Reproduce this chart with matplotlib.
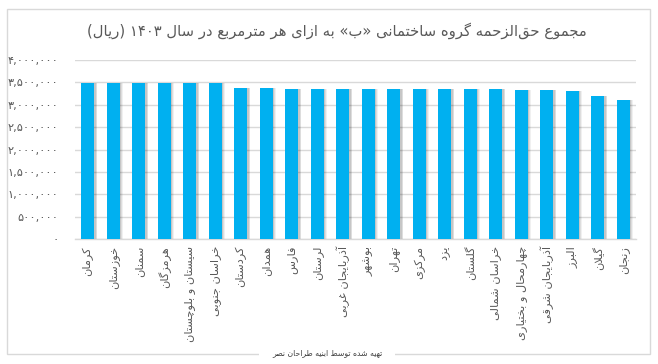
import matplotlib
matplotlib.use("Agg")
import matplotlib.pyplot as plt
from matplotlib.ticker import FuncFormatter, MultipleLocator
from matplotlib.patches import Rectangle
import numpy as np

# ---------------- data ----------------
title = "مجموع حق\u200cالزحمه گروه ساختمانی «ب» به ازای هر مترمربع در سال ۱۴۰۳ (ریال)"
footer = "تهیه شده توسط ابنیه طراحان نصر"
provinces = ["کرمان", "خوزستان", "سمنان", "هرمزگان", "سیستان و بلوچستان", "خراسان جنوبی",
             "کردستان", "همدان", "فارس", "لرستان", "آذربایجان غربی", "بوشهر", "تهران",
             "مرکزی", "یزد", "گلستان", "خراسان شمالی", "چهارمحال و بختیاری",
             "آذربایجان شرقی", "البرز", "گیلان", "زنجان"]
values = [3490000, 3490000, 3490000, 3490000, 3490000, 3490000,
          3385000, 3385000, 3355000, 3355000, 3355000, 3355000, 3355000,
          3355000, 3355000, 3355000, 3355000, 3330000,
          3330000, 3310000, 3200000, 3110000]
y_max = 4000000
y_step = 500000

# ---------------- simple Arabic/Persian shaping ----------------
FORMS = {
    '\u0622': ('\uFE81', '\uFE82'),
    '\u0623': ('\uFE83', '\uFE84'),
    '\u0627': ('\uFE8D', '\uFE8E'),
    '\u0628': ('\uFE8F', '\uFE90', '\uFE91', '\uFE92'),
    '\u062A': ('\uFE95', '\uFE96', '\uFE97', '\uFE98'),
    '\u062B': ('\uFE99', '\uFE9A', '\uFE9B', '\uFE9C'),
    '\u062C': ('\uFE9D', '\uFE9E', '\uFE9F', '\uFEA0'),
    '\u062D': ('\uFEA1', '\uFEA2', '\uFEA3', '\uFEA4'),
    '\u062E': ('\uFEA5', '\uFEA6', '\uFEA7', '\uFEA8'),
    '\u062F': ('\uFEA9', '\uFEAA'),
    '\u0630': ('\uFEAB', '\uFEAC'),
    '\u0631': ('\uFEAD', '\uFEAE'),
    '\u0632': ('\uFEAF', '\uFEB0'),
    '\u0633': ('\uFEB1', '\uFEB2', '\uFEB3', '\uFEB4'),
    '\u0634': ('\uFEB5', '\uFEB6', '\uFEB7', '\uFEB8'),
    '\u0635': ('\uFEB9', '\uFEBA', '\uFEBB', '\uFEBC'),
    '\u0636': ('\uFEBD', '\uFEBE', '\uFEBF', '\uFEC0'),
    '\u0637': ('\uFEC1', '\uFEC2', '\uFEC3', '\uFEC4'),
    '\u0638': ('\uFEC5', '\uFEC6', '\uFEC7', '\uFEC8'),
    '\u0639': ('\uFEC9', '\uFECA', '\uFECB', '\uFECC'),
    '\u063A': ('\uFECD', '\uFECE', '\uFECF', '\uFED0'),
    '\u0641': ('\uFED1', '\uFED2', '\uFED3', '\uFED4'),
    '\u0642': ('\uFED5', '\uFED6', '\uFED7', '\uFED8'),
    '\u0643': ('\uFED9', '\uFEDA', '\uFEDB', '\uFEDC'),
    '\u0644': ('\uFEDD', '\uFEDE', '\uFEDF', '\uFEE0'),
    '\u0645': ('\uFEE1', '\uFEE2', '\uFEE3', '\uFEE4'),
    '\u0646': ('\uFEE5', '\uFEE6', '\uFEE7', '\uFEE8'),
    '\u0647': ('\uFEE9', '\uFEEA', '\uFEEB', '\uFEEC'),
    '\u0648': ('\uFEED', '\uFEEE'),
    '\u064A': ('\uFEF1', '\uFEF2', '\uFEF3', '\uFEF4'),
    '\u067E': ('\uFB56', '\uFB57', '\uFB58', '\uFB59'),
    '\u0686': ('\uFB7A', '\uFB7B', '\uFB7C', '\uFB7D'),
    '\u0698': ('\uFB8A', '\uFB8B'),
    '\u06A9': ('\uFB8E', '\uFB8F', '\uFB90', '\uFB91'),
    '\u06AF': ('\uFB92', '\uFB93', '\uFB94', '\uFB95'),
    '\u06CC': ('\uFBFC', '\uFBFD', '\uFBFE', '\uFBFF'),
}
LAM_ALEF = {'\u0627': ('\uFEFB', '\uFEFC'), '\u0622': ('\uFEF5', '\uFEF6')}
MIRROR = {'(': ')', ')': '(', '«': '»', '»': '«'}


def _shape(s):
    out = []
    n = len(s)
    i = 0
    prev_joins = False
    while i < n:
        c = s[i]
        f = FORMS.get(c)
        if f is None:
            if c != '\u200c':
                out.append(c)
            prev_joins = False
            i += 1
            continue
        if c == '\u0644' and i + 1 < n and s[i + 1] in LAM_ALEF:
            iso, fin = LAM_ALEF[s[i + 1]]
            out.append(fin if prev_joins else iso)
            prev_joins = False
            i += 2
            continue
        nxt = s[i + 1] if i + 1 < n else None
        joins_next = len(f) == 4 and nxt is not None and nxt in FORMS
        if prev_joins and joins_next:
            g = f[3]
        elif prev_joins:
            g = f[1]
        elif joins_next:
            g = f[2]
        else:
            g = f[0]
        out.append(g)
        prev_joins = len(f) == 4
        i += 1
    return ''.join(out)


def rtl(s):
    shaped = _shape(s)
    tokens = []
    buf = ''
    for idx, ch in enumerate(shaped):
        if ch.isdigit() or (ch in ',.' and buf and idx + 1 < len(shaped) and shaped[idx + 1].isdigit()):
            buf += ch
        else:
            if buf:
                tokens.append(buf)
                buf = ''
            tokens.append(MIRROR.get(ch, ch))
    if buf:
        tokens.append(buf)
    return ''.join(reversed(tokens))


PERSIAN_DIGITS = str.maketrans('0123456789', '۰۱۲۳۴۵۶۷۸۹')


def fa_num(v, pos=None):
    return f"{int(round(v)):,}".translate(PERSIAN_DIGITS)


# ---------------- figure ----------------
plt.rcParams['font.family'] = ['DejaVu Sans']
W, H = 658, 364
fig = plt.figure(figsize=(W / 100, H / 100), dpi=100)
fig.patch.set_facecolor('white')

ax_l, ax_r, ax_t, ax_b = 75, 636, 60, 239
ax = fig.add_axes([ax_l / W, 1 - ax_b / H, (ax_r - ax_l) / W, (ax_b - ax_t) / H])

x = np.arange(len(provinces))
bar_w = 0.51
# soft shadow
for off, a in [(0.10, 0.06), (0.07, 0.08), (0.04, 0.10)]:
    ax.bar(x + off, values, width=bar_w + 0.04, color='black', alpha=a, zorder=2, linewidth=0)
ax.bar(x, values, width=bar_w, color='#00B0F0', zorder=3, linewidth=0)

ax.set_xlim(-0.5, len(provinces) - 0.5)
ax.set_ylim(0, y_max)
ax.yaxis.set_major_locator(MultipleLocator(y_step))
ax.yaxis.set_major_formatter(FuncFormatter(fa_num))
ax.grid(axis='y', color='#d9d9d9', linewidth=1, zorder=0)
ax.set_axisbelow(True)

for s in ['top', 'right', 'left']:
    ax.spines[s].set_visible(False)
ax.spines['bottom'].set_color('#d9d9d9')
ax.spines['bottom'].set_linewidth(1)

ax.set_xticks(x)
ax.set_xticklabels([rtl(p) for p in provinces], rotation=90, fontsize=8.2, color='#595959')
ax.tick_params(axis='x', length=0, pad=5)
ax.tick_params(axis='y', length=0, pad=12, labelsize=8.2, labelcolor='#595959')

# title
fig.text(337 / W, 1 - 31 / H, rtl(title), ha='center', va='center', fontsize=10.6, color='#595959')

# frame border
fig.patches.append(Rectangle((7 / W, 1 - 354 / H), (650 - 7) / W, (354 - 9) / H,
                             transform=fig.transFigure, fill=False, edgecolor='#d9d9d9',
                             linewidth=1, zorder=10))
# footer
fig.text(327 / W, 1 - 353 / H, rtl(footer), ha='center', va='center', fontsize=5.6, color='#404040',
         zorder=11, bbox=dict(facecolor='white', edgecolor='none', pad=9))

fig.savefig('out.png', dpi=100, facecolor='white')
